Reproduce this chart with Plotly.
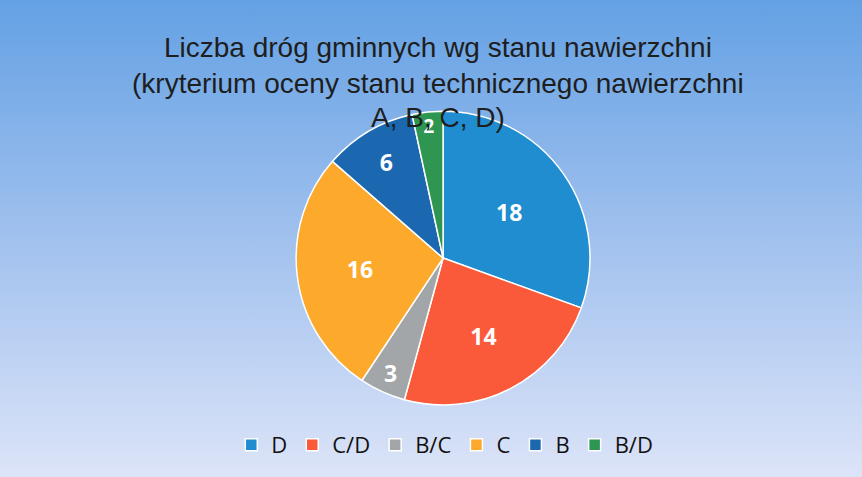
import base64
import plotly.graph_objects as go

categories = ["D", "C/D", "B/C", "C", "B", "B/D"]
values = [18, 14, 3, 16, 6, 2]
colors = ["#1F8DD0", "#FA5A3A", "#A2A6A8", "#FCA92C", "#1C68B0", "#2E9650"]

title_lines = [
    "Liczba dróg gminnych wg stanu nawierzchni",
    "(kryterium oceny stanu technicznego nawierzchni",
    "A, B, C, D)",
]

W, H = 862, 477

svg = f'''<svg xmlns="http://www.w3.org/2000/svg" width="{W}" height="{H}" preserveAspectRatio="none">
<defs><linearGradient id="g" x1="0" y1="0" x2="0" y2="1">
<stop offset="0" stop-color="#64A1E4"/>
<stop offset="0.5" stop-color="#A1C1EE"/>
<stop offset="1" stop-color="#DCE4F8"/>
</linearGradient></defs>
<rect width="{W}" height="{H}" fill="url(#g)"/></svg>'''
src = "data:image/svg+xml;base64," + base64.b64encode(svg.encode()).decode()

fig = go.Figure(go.Pie(
    labels=categories,
    values=values,
    sort=False,
    direction="clockwise",
    rotation=0,
    marker=dict(colors=colors, line=dict(color="white", width=1.5)),
    textinfo="value",
    textposition="inside",
    insidetextorientation="horizontal",
    textfont=dict(family="Open Sans", size=23, color="white", weight="bold"),
    domain=dict(x=[0.2, 0.828], y=[0.151, 0.767]),
    hoverinfo="label+value",
))

for i, line in enumerate(title_lines):
    fig.add_annotation(
        text=line, xref="paper", yref="paper",
        x=0.508, y=1 - (48 + 35 * i) / H, xanchor="center", yanchor="middle",
        showarrow=False,
        font=dict(family="Liberation Sans, Arial", size=28, color="#1e1e1e"),
    )

fig.update_layout(
    width=W, height=H,
    margin=dict(l=0, r=0, t=0, b=0),
    paper_bgcolor="#A1C1EE",
    plot_bgcolor="rgba(0,0,0,0)",
    images=[dict(source=src, xref="paper", yref="paper", x=0, y=1, sizex=1, sizey=1,
                 sizing="stretch", layer="below", xanchor="left", yanchor="top")],
    legend=dict(orientation="h", x=0.516, xanchor="center", y=1 - 445 / H, yanchor="middle",
                font=dict(family="Open Sans", size=22, color="#111111"),
                bgcolor="rgba(0,0,0,0)", itemwidth=30, traceorder="normal"),
    showlegend=True,
)

fig.write_html("out.html", config={"displayModeBar": False},
               post_script="document.body.style.margin='0';document.body.style.overflow='hidden';")
